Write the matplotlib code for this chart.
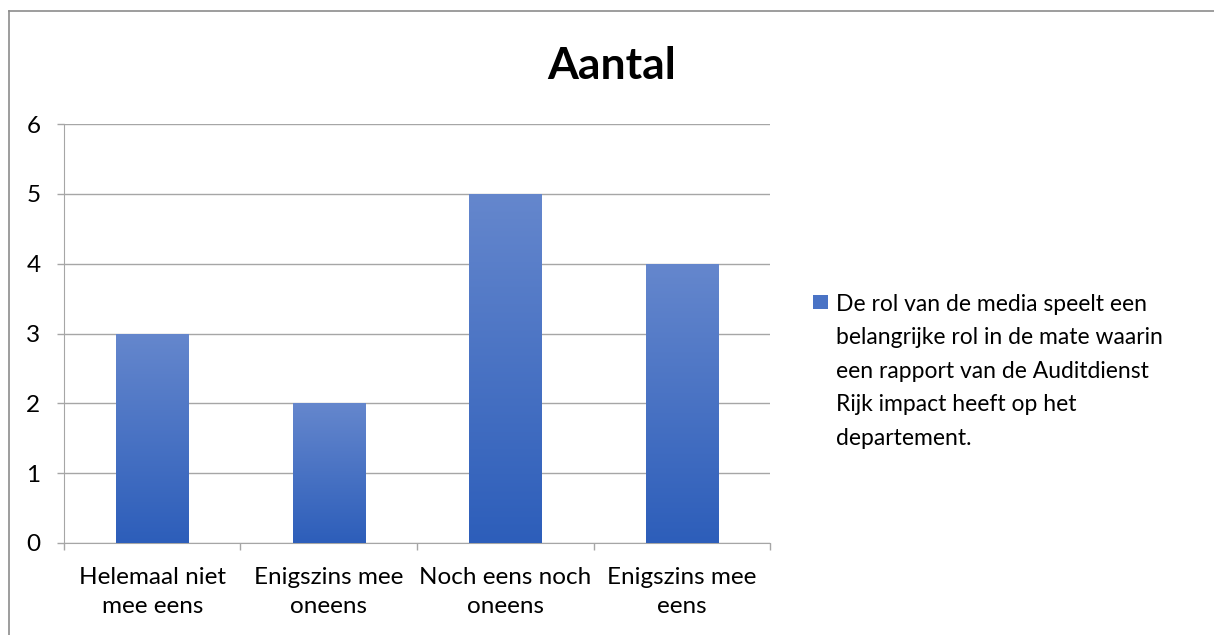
import numpy as np
import matplotlib
matplotlib.use("Agg")
import matplotlib.pyplot as plt
from matplotlib.lines import Line2D
from matplotlib.patches import Rectangle
from matplotlib.colors import LinearSegmentedColormap

plt.rcParams["font.family"] = ["Lato", "DejaVu Sans"]

categories = ["Helemaal niet\nmee eens", "Enigszins mee\noneens",
              "Noch eens noch\noneens", "Enigszins mee\neens"]
counts = [3, 2, 5, 4]
series_name = ("De rol van de media speelt een\nbelangrijke rol in de mate waarin\n"
               "een rapport van de Auditdienst\nRijk impact heeft op het\ndepartement.")
yticks = [0, 1, 2, 3, 4, 5, 6]

GRID = "#A6A6A6"
TOP = "#6587CD"
BOT = "#2D5EBA"

fig = plt.figure(figsize=(12.14, 6.35), dpi=100)
ax = fig.add_axes([0.0527, 0.1449, 0.5816, 0.6598])

x = np.arange(len(categories))
bars = ax.bar(x, counts, width=0.41, color=BOT, zorder=2)

# vertical gradient inside every bar
grad = LinearSegmentedColormap.from_list("bar", [BOT, TOP])
g = np.linspace(0, 1, 256).reshape(-1, 1)
for b in bars:
    x0, w, h = b.get_x(), b.get_width(), b.get_height()
    im = ax.imshow(g, cmap=grad, origin="lower", aspect="auto",
                   extent=(x0, x0 + w, 0, h), zorder=3)
    im.set_clip_path(b)

ax.set_xlim(-0.5, len(categories) - 0.5)
ax.set_ylim(0, 6)
ax.set_yticks(yticks)
ax.set_yticklabels([str(t) for t in yticks], fontsize=17.5)
ax.yaxis.grid(True, color=GRID, linewidth=1.0, zorder=0)
ax.set_axisbelow(True)

ax.set_xticks(x)
ax.set_xticklabels(categories, fontsize=17.5, linespacing=1.5)
ax.tick_params(axis="x", length=0, pad=17)
ax.set_xticks(np.arange(len(categories) + 1) - 0.5, minor=True)
ax.tick_params(axis="x", which="minor", length=5, color=GRID, width=1.0)
ax.tick_params(axis="y", length=5, color=GRID, width=1.0, pad=12)

for side in ["top", "right"]:
    ax.spines[side].set_visible(False)
ax.spines["left"].set_color(GRID)
ax.spines["bottom"].set_color(GRID)

fig.text(0.504, 0.896, "Aantal", fontsize=32, fontweight="bold",
         ha="center", va="center")

# legend as marker + wrapped text
fig.patches.append(Rectangle((0.6697, 0.5134), 0.0124, 0.0220,
                             transform=fig.transFigure, facecolor="#4A73C5",
                             edgecolor="none"))
fig.text(0.6886, 0.5370, series_name, fontsize=16.5, ha="left", va="top",
         linespacing=1.73)

# chart frame (top and left edges visible)
fig.lines.append(Line2D([0.0074, 1.0], [0.9827, 0.9827], transform=fig.transFigure,
                        color="#8C8C8C", linewidth=1.2))
fig.lines.append(Line2D([0.0074, 0.0074], [0.0, 0.9827], transform=fig.transFigure,
                        color="#8C8C8C", linewidth=1.2))

fig.savefig("out.png", dpi=100)
